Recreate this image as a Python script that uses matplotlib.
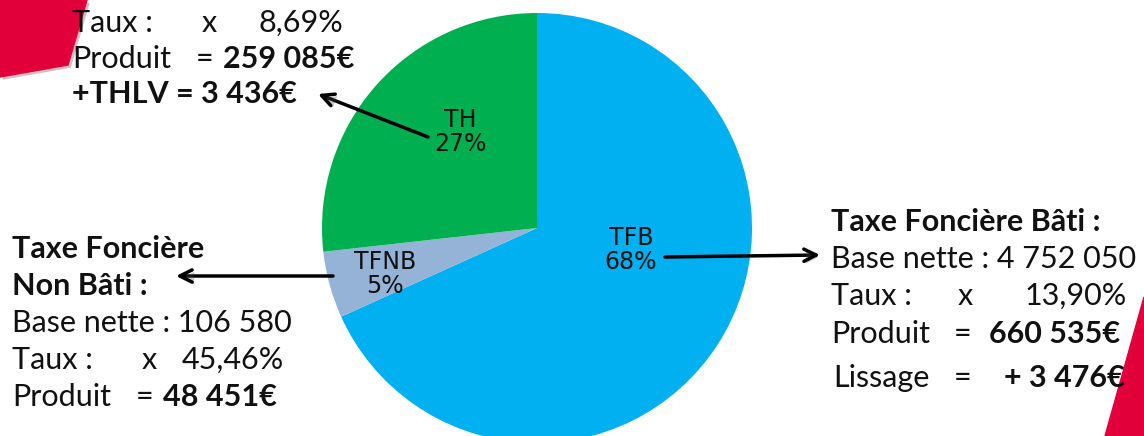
import matplotlib.pyplot as plt
from matplotlib.patches import Polygon
import matplotlib.patheffects as pe

# données
noms = ['TFB', 'TFNB', 'TH']
produits = [660535, 48451, 259085]
couleurs = ['#00B0F0', '#95B3D7', '#00B050']

# position des etiquettes dans le camembert (pixels)
pos_etiq = [(631, 250), (385, 274), (460, 132)]

police = 'Lato'
taille = 22
noir = '#111111'
rouge = '#E2003B'

fig = plt.figure(figsize=(11.44, 4.36), dpi=100)
ax = fig.add_axes([0, 0, 1, 1])

ax.pie(produits, colors=couleurs, startangle=-90, counterclock=True,
       center=(537, 228), radius=215, wedgeprops=dict(linewidth=0))
ax.set_xlim(0, 1144)
ax.set_ylim(436, 0)
ax.set_aspect('equal')
ax.axis('off')

total = sum(produits)
for nom, val, (x, y) in zip(noms, produits, pos_etiq):
    pct = round(val / total * 100)
    ax.text(x, y, nom + '\n' + str(pct) + '%', ha='center', va='center',
            fontsize=17, family='DejaVu Sans', color='#111111', linespacing=1.05)

# formes rouges de la diapo
ombre = [pe.SimplePatchShadow(offset=(2, -2), alpha=0.25), pe.Normal()]
p1 = Polygon([(0, 0), (87, 0), (68, 65), (0, 77)], closed=True, color=rouge, zorder=0)
p1.set_path_effects(ombre)
ax.add_patch(p1)
p2 = Polygon([(1144, 297), (1105, 436), (1144, 436)], closed=True, color=rouge, zorder=0)
p2.set_path_effects(ombre)
ax.add_patch(p2)

# fleches
fleches = [((820, 255), (665, 257)), ((176, 276), (333, 276)), ((318, 94), (428, 137))]
for tip, tail in fleches:
    a = ax.annotate('', xy=tip, xytext=tail,
                    arrowprops=dict(arrowstyle='->', lw=2.5, color='black',
                                    mutation_scale=22, shrinkA=0, shrinkB=0))
    a.arrow_patch.set_path_effects([pe.SimplePatchShadow(offset=(1.5, -1.5), alpha=0.3), pe.Normal()])


def txt(x, y, s, gras=False):
    ax.text(x, y, s, fontsize=taille, family=police, color=noir, va='baseline',
            ha='left', fontweight='bold' if gras else 'normal')


# TH (haut gauche)
txt(72, 32, 'Taux :')
txt(202, 32, 'x')
txt(258, 32, '8,69%')
txt(72, 68, 'Produit')
txt(196, 68, '=')
txt(223, 68, '259 085€', True)
txt(72, 103, '+THLV = 3 436€', True)

# TFNB (gauche)
txt(12, 258, 'Taxe Foncière', True)
txt(12, 295, 'Non Bâti :', True)
txt(12, 332, 'Base nette : 106 580')
txt(12, 369, 'Taux :')
txt(142, 369, 'x')
txt(182, 369, '45,46%')
txt(12, 406, 'Produit')
txt(136, 406, '=')
txt(163, 406, '48 451€', True)

# TFB (droite)
txt(831, 231, 'Taxe Foncière Bâti :', True)
txt(831, 268, 'Base nette : 4 752 050')
txt(831, 305, 'Taux :')
txt(958, 305, 'x')
txt(1025, 305, '13,90%')
txt(831, 343, 'Produit')
txt(954, 343, '=')
txt(989, 343, '660 535€', True)
txt(833, 387, 'Lissage')
txt(954, 387, '=')
txt(1004, 387, '+ 3 476€', True)

fig.savefig('out.png', dpi=100)
